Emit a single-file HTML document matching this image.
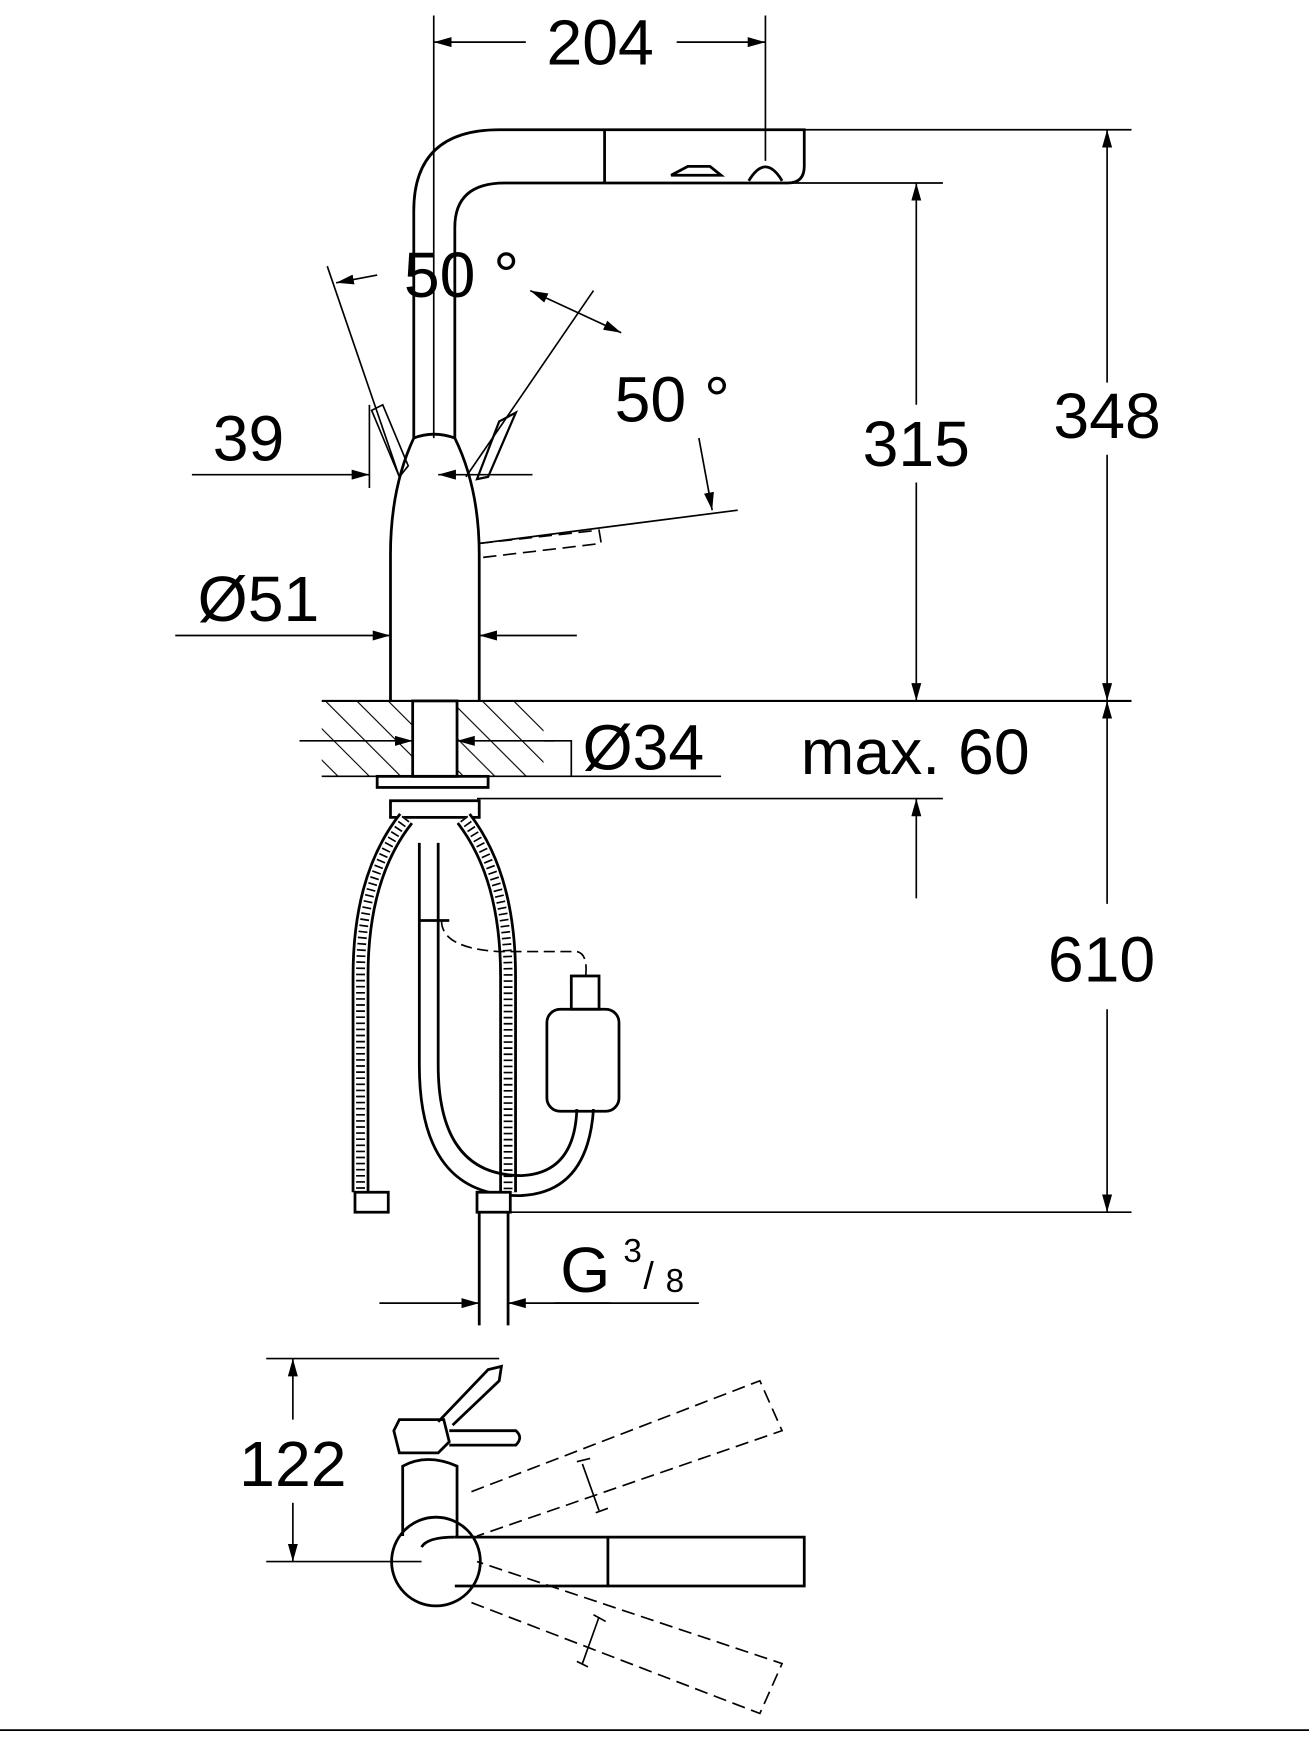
<!DOCTYPE html>
<html><head><meta charset="utf-8"><style>
html,body{margin:0;padding:0;background:#fff;}
svg{display:block;}
text{font-family:"Liberation Sans",sans-serif;fill:#000;}
</style></head><body>
<svg width="1309" height="1739" viewBox="0 0 1180 1568" preserveAspectRatio="none" xmlns="http://www.w3.org/2000/svg">
<defs>
<marker id="a" viewBox="0 0 10 10" refX="10" refY="5" markerWidth="16" markerHeight="9" markerUnits="userSpaceOnUse" orient="auto-start-reverse" preserveAspectRatio="none"><path d="M0,0L10,5L0,10z" fill="#000"/></marker>
<pattern id="h" width="20" height="20" patternUnits="userSpaceOnUse" patternTransform="rotate(-45)"><line x1="0" y1="0" x2="0" y2="20" stroke="#000" stroke-width="2"/></pattern>
</defs>
<g fill="none" stroke="#000" stroke-width="1.5">
<line x1="391" y1="14" x2="391" y2="395"/>
<line x1="690" y1="14" x2="690" y2="145"/>
<line x1="391" y1="38" x2="474" y2="38" marker-start="url(#a)"/>
<line x1="610" y1="38" x2="690" y2="38" marker-end="url(#a)"/>
<g stroke-width="2.5">
<path d="M373,395 L373,190 Q373,117 450,117 L725,117 L725,150 Q725,165 710,165 L545,165"/>
<path d="M410,395 L410,205 Q410,165 455,165 L545,165"/>
<line x1="545" y1="117" x2="545" y2="165"/>
<path d="M675,163 Q690,138 705,163"/>
<path d="M605,158 L620,150 L640,150 L650,158 Z"/>
</g>
<line x1="725" y1="117" x2="1020" y2="117"/>
<line x1="998" y1="117" x2="998" y2="345" marker-start="url(#a)"/>
<line x1="998" y1="410" x2="998" y2="632" marker-end="url(#a)"/>
<line x1="680" y1="165" x2="850" y2="165"/>
<line x1="826" y1="165" x2="826" y2="365" marker-start="url(#a)"/>
<line x1="826" y1="435" x2="826" y2="632" marker-end="url(#a)"/>
<g stroke-width="2.5">
<path d="M373,395 Q352,440 352,500 L352,632"/>
<path d="M410,395 Q432,440 432,500 L432,632"/>
<path d="M373,395 Q391,388 410,395"/>
</g>
<path d="M335,370 L345,365 L368,420 L360,430 Z"/>
<path d="M450,380 L465,372 L440,430 L430,432 Z" stroke-width="2"/>
<path d="M432,490 L540,478 L542,490 L432,503" stroke-dasharray="12,6"/>
<line x1="295" y1="240" x2="360" y2="430"/>
<line x1="535" y1="262" x2="420" y2="430"/>
<line x1="303" y1="255" x2="340" y2="248" marker-start="url(#a)"/>
<line x1="478" y1="262" x2="560" y2="300" marker-start="url(#a)" marker-end="url(#a)"/>
<line x1="432" y1="490" x2="665" y2="460"/>
<line x1="630" y1="395" x2="642" y2="460" marker-end="url(#a)"/>
<line x1="173" y1="428" x2="333" y2="428" marker-end="url(#a)"/>
<line x1="480" y1="428" x2="395" y2="428" marker-end="url(#a)"/>
<line x1="333" y1="365" x2="333" y2="440"/>
<line x1="158" y1="573" x2="352" y2="573" marker-end="url(#a)"/>
<line x1="520" y1="573" x2="432" y2="573" marker-end="url(#a)"/>
<line x1="290" y1="632" x2="1020" y2="632" stroke-width="2"/>
<rect x="290" y="632" width="200" height="68" fill="url(#h)" stroke="none"/>
<line x1="290" y1="700" x2="650" y2="700"/>
<rect x="372" y="632" width="40" height="68" fill="#fff" stroke-width="2.5"/>
<line x1="270" y1="668" x2="372" y2="668" marker-end="url(#a)"/>
<line x1="500" y1="668" x2="412" y2="668" marker-end="url(#a)"/>
<path d="M490,668 L515,668 L515,700"/>
<line x1="430" y1="720" x2="850" y2="720"/>
<line x1="826" y1="810" x2="826" y2="720" marker-end="url(#a)"/>
<line x1="998" y1="632" x2="998" y2="815" marker-start="url(#a)"/>
<line x1="998" y1="910" x2="998" y2="1093" marker-end="url(#a)"/>
<line x1="440" y1="1093" x2="1020" y2="1093"/>
<g stroke-width="2.5">
<rect x="340" y="700" width="100" height="10"/>
<rect x="352" y="722" width="80" height="15"/>
<path d="M366,738 Q325,790 325,880 L325,1075" stroke="#000" stroke-width="16"/>
<path d="M366,738 Q325,790 325,880 L325,1075" stroke="#fff" stroke-width="11"/>
<path d="M366,738 Q325,790 325,880 L325,1075" stroke="#000" stroke-width="8" stroke-dasharray="1.5,4"/>
<path d="M418,738 Q458,790 458,880 L458,1075" stroke="#000" stroke-width="16"/>
<path d="M418,738 Q458,790 458,880 L458,1075" stroke="#fff" stroke-width="11"/>
<path d="M418,738 Q458,790 458,880 L458,1075" stroke="#000" stroke-width="8" stroke-dasharray="1.5,4"/>
<path d="M378,760 L378,960 Q378,1080 470,1078 Q530,1075 535,1000"/>
<path d="M395,760 L395,960 Q395,1060 470,1060 Q518,1058 520,1000"/>
<path d="M378,830 L405,830"/>
<rect x="493" y="910" width="65" height="92" rx="12"/>
<rect x="515" y="880" width="25" height="30"/>
<rect x="320" y="1075" width="30" height="18" fill="#fff"/>
<rect x="430" y="1075" width="30" height="18" fill="#fff"/>
</g>
<path d="M398,830 Q398,855 450,858 L520,858 Q530,860 528,880" stroke-dasharray="10,5"/>
<line x1="432" y1="1093" x2="432" y2="1195" stroke-width="2.5"/>
<line x1="458" y1="1093" x2="458" y2="1195" stroke-width="2.5"/>
<line x1="342" y1="1175" x2="432" y2="1175" marker-end="url(#a)"/>
<line x1="550" y1="1175" x2="458" y2="1175" marker-end="url(#a)"/>
<line x1="500" y1="1175" x2="630" y2="1175"/>
<line x1="240" y1="1225" x2="450" y2="1225"/>
<line x1="240" y1="1408" x2="380" y2="1408"/>
<line x1="264" y1="1225" x2="264" y2="1280" marker-start="url(#a)"/>
<line x1="264" y1="1355" x2="264" y2="1408" marker-end="url(#a)"/>
<g stroke-width="2.5">
<circle cx="393" cy="1408" r="40"/>
<path d="M410,1386 L725,1386 L725,1430 L410,1430"/>
<path d="M380,1395 Q385,1386 410,1386"/>
<line x1="548" y1="1386" x2="548" y2="1430"/>
<path d="M363,1385 L363,1322 Q385,1310 412,1322 L412,1386"/>
<path d="M355,1290 L360,1280 L400,1280 L405,1300 L395,1310 L360,1310 Z"/>
<path d="M405,1290 L465,1290 Q472,1296 465,1303 L405,1303"/>
<path d="M395,1282 L440,1235 L452,1232 L450,1245 L408,1285"/>
</g>
<g stroke-dasharray="12,6">
<path d="M425,1345 L685,1245 L705,1290 L430,1385"/>
<path d="M425,1445 L685,1545 L705,1500 L430,1408"/>
</g>
<line x1="525" y1="1320" x2="540" y2="1362"/>
<line x1="520" y1="1318" x2="532" y2="1315"/>
<line x1="537" y1="1364" x2="548" y2="1360"/>
<line x1="540" y1="1458" x2="525" y2="1500"/>
<line x1="535" y1="1456" x2="546" y2="1462"/>
<line x1="520" y1="1498" x2="530" y2="1503"/>
<line x1="0" y1="1560" x2="1180" y2="1560"/>
</g>
<g font-size="58">
<text x="541" y="58" text-anchor="middle">204</text>
<text x="416" y="268" text-anchor="middle">50 °</text>
<text x="606" y="380" text-anchor="middle">50 °</text>
<text x="224" y="415" text-anchor="middle">39</text>
<text x="826" y="420" text-anchor="middle">315</text>
<text x="998" y="395" text-anchor="middle">348</text>
<text x="233" y="560" text-anchor="middle">Ø51</text>
<text x="580" y="694" text-anchor="middle">Ø34</text>
<text x="825" y="698" text-anchor="middle">max. 60</text>
<text x="993" y="885" text-anchor="middle">610</text>
<text x="505" y="1165">G</text>
<text x="562" y="1138" font-size="30">3</text>
<text x="580" y="1162" font-size="34">/</text>
<text x="600" y="1165" font-size="30">8</text>
<text x="264" y="1340" text-anchor="middle">122</text>
</g>
</svg>
</body></html>
